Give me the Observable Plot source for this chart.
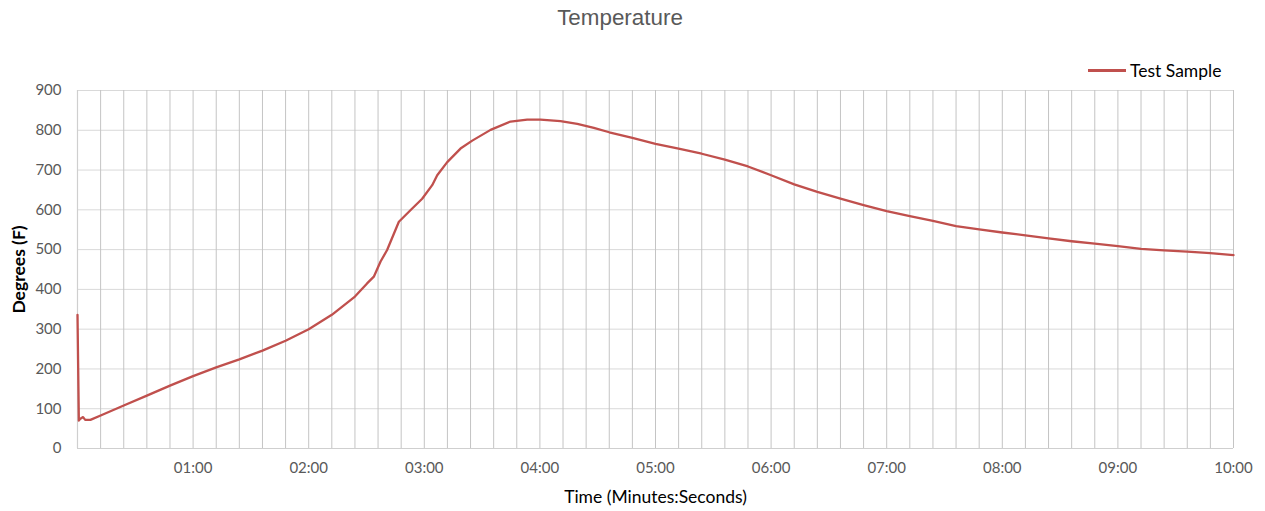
<!DOCTYPE html>
<html>
<head>
<meta charset="utf-8">
<script src="https://cdn.jsdelivr.net/npm/d3@7"></script>
<script src="https://cdn.jsdelivr.net/npm/@observablehq/plot@0.6"></script>
<style>
  html, body { margin: 0; padding: 0; background: #fff; }
  #wrap { position: relative; width: 1265px; height: 511px; overflow: hidden; }
  #title { position: absolute; left: 0; top: 5px; width: 1240px; text-align: center;
           font-family: "Liberation Sans", Arial, sans-serif; font-size: 22.4px; color: #595959; }
  #legend { position: absolute; left: 1088px; top: 60px; font-family: Lato, "Open Sans", sans-serif;
            font-size: 17.5px; color: #000; display: flex; align-items: center; white-space: nowrap; }
  #legend .sw { display: inline-block; width: 38px; height: 2.5px; background: #c0504d; margin-right: 4px; }
  #chart { position: absolute; left: 0; top: 0; }
</style>
</head>
<body>
<div id="wrap">
  <div id="chart"></div>
  <div id="title">Temperature</div>
  <div id="legend"><span class="sw"></span><span>Test Sample</span></div>
</div>
<script>
// Time in seconds
const seconds = [0, 0.7, 1.5, 2.9, 4, 6.7, 12, 24, 36, 48, 60, 72, 84, 96, 108, 120, 132, 141.7, 144, 150.3,
  153.8, 157.3, 160.7, 166.8, 172.8, 178.9, 184.1, 186.7, 191.9, 198.8, 204.9, 214.4, 224.8, 233.4, 240.3,
  250.7, 259.4, 268, 276, 288, 300, 312, 324, 336, 348, 360, 372, 384, 396, 408, 420, 432, 444, 456, 468,
  480, 492, 504, 516, 528, 540, 552, 564, 576, 588, 600];
// Temperature in degrees F
const temps = [336, 70, 75, 79, 72, 72, 83, 108, 133, 158, 182, 204, 224, 246, 271, 300, 336, 373, 382, 415,
  432, 470, 499, 570, 599, 628, 662, 687, 720, 754, 774, 801, 822, 827, 827,
  823, 816, 806, 795, 781, 766, 754, 741, 726, 709, 687, 664, 645, 628, 612, 597, 584, 572, 559, 551,
  543, 536, 528, 521, 515, 509, 502, 498, 495, 491, 486];

const xTickValues = [60, 120, 180, 240, 300, 360, 420, 480, 540, 600];
const yTickValues = [0, 100, 200, 300, 400, 500, 600, 700, 800, 900];
const xGridValues = d3.range(0, 601, 12);
const seriesName = "Test Sample";
const chartTitle = "Temperature";
const xTitle = "Time (Minutes:Seconds)";
const yTitle = "Degrees (F)";

const data = seconds.map((t, i) => ({t, temp: temps[i]}));
const fmt = t => d3.format("02d")(Math.floor(t / 60)) + ":" + d3.format("02d")(t % 60);

const chart = Plot.plot({
  width: 1265,
  height: 511,
  marginTop: 90,
  marginBottom: 63,
  marginLeft: 77,
  marginRight: 32,
  style: {fontFamily: "Lato, 'Open Sans', sans-serif", fontSize: "15px", color: "#595959", background: "#fff"},
  x: {domain: [0, 600]},
  y: {domain: [0, 900]},
  marks: [
    Plot.ruleY(yTickValues, {stroke: "#d9d9d9", strokeWidth: 1}),
    Plot.ruleX(xGridValues, {stroke: "#c4c4c4", strokeWidth: 1}),
    Plot.ruleY([0], {stroke: "#cfcfcf", strokeWidth: 1.2}),
    Plot.ruleX([0], {stroke: "#cfcfcf", strokeWidth: 1.2}),
    Plot.axisX({ticks: xTickValues, tickFormat: fmt, tickSize: 0, tickPadding: 14, label: null}),
    Plot.axisY({ticks: yTickValues, tickSize: 0, tickPadding: 16, label: null}),
    Plot.line(data, {x: "t", y: "temp", stroke: "#c0504d", strokeWidth: 2.3}),
    Plot.text([xTitle], {frameAnchor: "bottom", lineAnchor: "middle", textAnchor: "middle", dy: 49,
      fill: "#000", fontSize: 17.5}),
    Plot.text([yTitle], {frameAnchor: "left", lineAnchor: "middle", textAnchor: "middle", rotate: -90, dx: -58,
      fill: "#000", fontSize: 17.5, fontWeight: "bold"})
  ]
});
document.getElementById("chart").appendChild(chart);
document.getElementById("title").textContent = chartTitle;
document.querySelector("#legend span:last-child").textContent = seriesName;
</script>
</body>
</html>
